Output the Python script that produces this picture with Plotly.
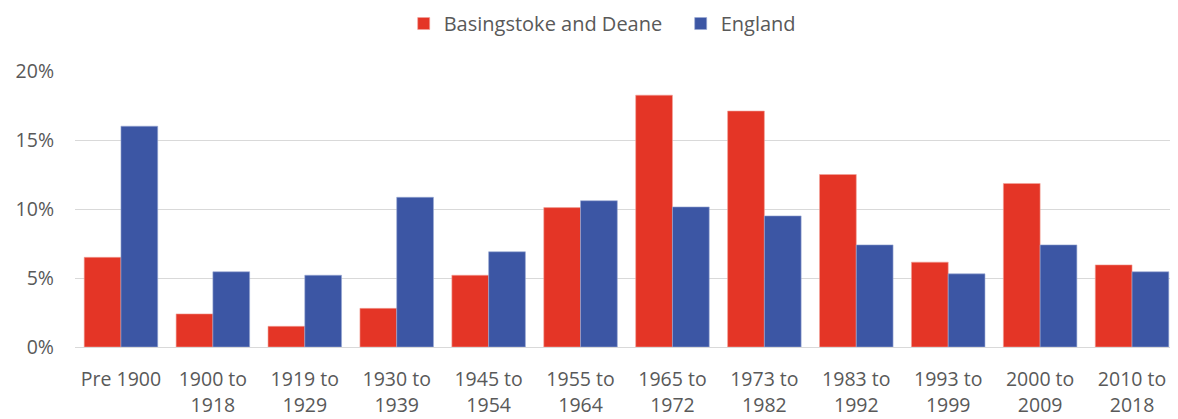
import plotly.graph_objects as go

# Периоды постройки
periods = ["Pre 1900", "1900 to<br>1918", "1919 to<br>1929", "1930 to<br>1939", "1945 to<br>1954",
           "1955 to<br>1964", "1965 to<br>1972", "1973 to<br>1982", "1983 to<br>1992",
           "1993 to<br>1999", "2000 to<br>2009", "2010 to<br>2018"]
basingstoke = [6.5, 2.4, 1.5, 2.8, 5.2, 10.1, 18.25, 17.1, 12.5, 6.15, 11.85, 5.95]
england = [16.0, 5.45, 5.2, 10.85, 6.9, 10.6, 10.15, 9.5, 7.4, 5.3, 7.4, 5.45]

fig = go.Figure()
fig.add_trace(go.Bar(x=periods, y=basingstoke, name="Basingstoke and Deane",
                     marker=dict(color="#E43526", line=dict(color="#F2A29B", width=0.6))))
fig.add_trace(go.Bar(x=periods, y=england, name="England",
                     marker=dict(color="#3C56A4", line=dict(color="#9AAAD4", width=0.6))))

# Страница имеет отступ 8px, поэтому поля сдвинуты
fig.update_layout(
    width=1178, height=419,
    barmode="group", bargap=0.2, bargroupgap=0,
    plot_bgcolor="white", paper_bgcolor="white",
    margin=dict(l=67, r=8, t=63, b=80, autoexpand=False),
    font=dict(family="Open Sans, sans-serif", size=19.5, color="#595959"),
    legend=dict(orientation="h", x=0.298, xanchor="left", y=1.172, yanchor="middle",
                font=dict(size=20), traceorder="normal", itemwidth=30,
                entrywidth=232, entrywidthmode="pixels"),
    xaxis=dict(showline=True, linecolor="#D9D9D9", linewidth=1, tickangle=0, automargin=False,
               ticklabelstandoff=15),
    yaxis=dict(range=[0, 20], dtick=5, ticksuffix="%", showgrid=True, gridcolor="#D9D9D9",
               gridwidth=1, zeroline=False, ticks="", ticklabelstandoff=20, automargin=False),
)

fig.write_html("out.html")
